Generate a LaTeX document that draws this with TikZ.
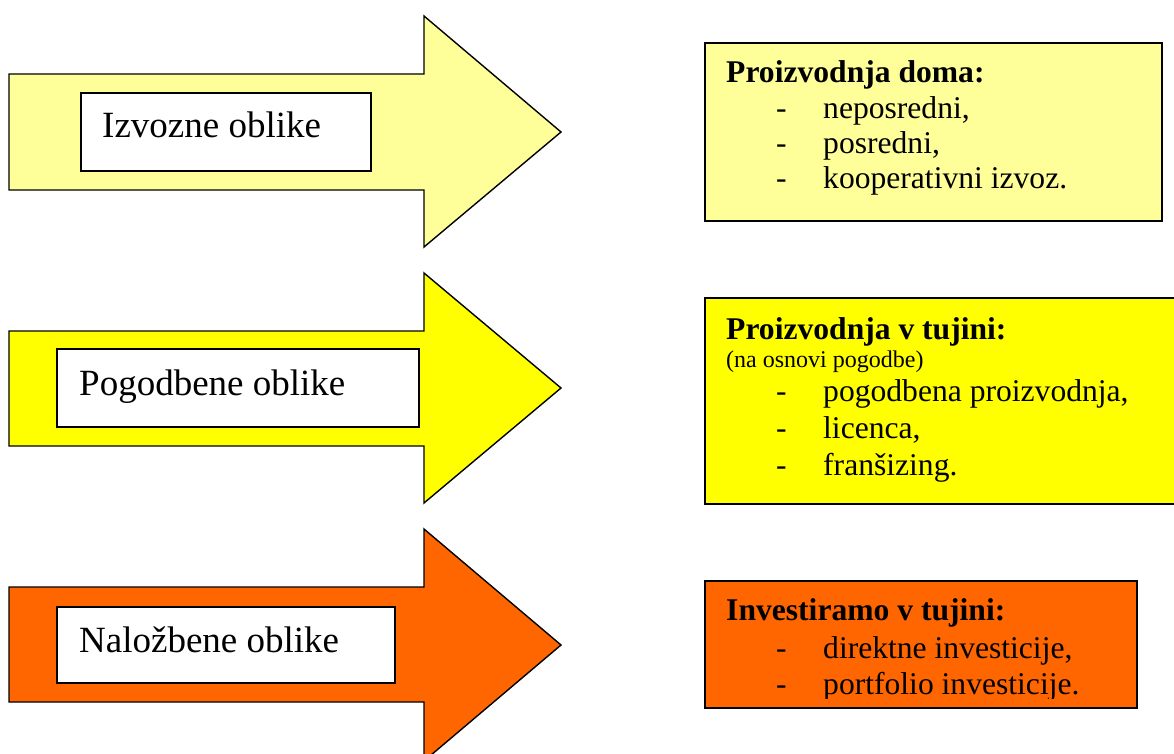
\documentclass[tikz,border=0pt]{standalone}
\usepackage{fontspec}
\setmainfont{Liberation Serif}
\definecolor{paleyel}{HTML}{FFFF99}
\definecolor{brightyel}{HTML}{FFFF00}
\definecolor{orng}{HTML}{FF6600}
\begin{document}
\begin{tikzpicture}[x=1pt,y=-1pt,
  arrowshape/.style={draw=black, line width=1.4pt, line join=miter},
  labelbox/.style={draw=black, fill=white, line width=1.4pt, rectangle, inner sep=0pt},
  labeltext/.style={anchor=base west, inner sep=0pt, font=\fontsize{37}{40}\selectfont},
  infobox/.style={draw=black, line width=1.8pt, rectangle, inner sep=0pt},
  titletext/.style={anchor=base west, inner sep=0pt, font=\fontsize{31.6}{34}\selectfont\bfseries},
  itemtext/.style={anchor=base west, inner sep=0pt, font=\fontsize{31.6}{34}\selectfont},
  dashtext/.style={anchor=base west, inner sep=0pt, font=\fontsize{31.6}{34}\selectfont},
  smalltext/.style={anchor=base west, inner sep=0pt, font=\fontsize{24}{26}\selectfont}
]
\useasboundingbox (0,0) rectangle (1174,754);

% ---- arrows ----
\draw[arrowshape, fill=paleyel] (9,74) -- (424,74) -- (424,16) -- (561,132) -- (424,247) -- (424,190) -- (9,190) -- cycle;
\draw[arrowshape, fill=brightyel] (9,331) -- (424,331) -- (424,273) -- (561,388) -- (424,503) -- (424,446) -- (9,446) -- cycle;
\draw[arrowshape, fill=orng] (9,587) -- (424,587) -- (424,529) -- (561,645) -- (424,761) -- (424,702) -- (9,702) -- cycle;

% ---- label boxes ----
\node[labelbox, minimum width=290pt, minimum height=78pt] (lb1) at (226,132) {};
\node[labeltext] (lt1) at (102,138) {Izvozne oblike};
\node[labelbox, minimum width=362pt, minimum height=78pt] (lb2) at (238,388) {};
\node[labeltext] (lt2) at (79,395) {Pogodbene oblike};
\node[labelbox, minimum width=338pt, minimum height=76pt] (lb3) at (226,645) {};
\node[labeltext] (lt3) at (79,652) {Naložbene oblike};

% ---- info box 1 ----
\node[infobox, fill=paleyel, minimum width=457pt, minimum height=178pt] (ib1) at (933.5,132) {};
\node[titletext] (ib1t) at (726,83) {Proizvodnja doma:};
\node[dashtext] (ib1d1) at (776,119) {-};
\node[itemtext] (ib1i1) at (823,119) {neposredni,};
\node[dashtext] (ib1d2) at (776,154) {-};
\node[itemtext] (ib1i2) at (823,154) {posredni,};
\node[dashtext] (ib1d3) at (776,189) {-};
\node[itemtext] (ib1i3) at (823,189) {kooperativni izvoz.};

% ---- info box 2 ----
\node[infobox, fill=brightyel, minimum width=480pt, minimum height=206pt] (ib2) at (945,401) {};
\node[titletext] (ib2t) at (726,339) {Proizvodnja v tujini:};
\node[smalltext] (ib2s) at (726,367) {(na osnovi pogodbe)};
\node[dashtext] (ib2d1) at (776,401) {-};
\node[itemtext] (ib2i1) at (823,401) {pogodbena proizvodnja,};
\node[dashtext] (ib2d2) at (776,438) {-};
\node[itemtext] (ib2i2) at (823,438) {licenca,};
\node[dashtext] (ib2d3) at (776,475) {-};
\node[itemtext] (ib2i3) at (823,475) {franšizing.};

% ---- info box 3 ----
\node[infobox, fill=orng, minimum width=432pt, minimum height=127pt] (ib3) at (921,644.5) {};
\node[titletext] (ib3t) at (726,620) {Investiramo v tujini:};
\node[dashtext] (ib3d1) at (776,658) {-};
\node[itemtext] (ib3i1) at (823,658) {direktne investicije,};
\begin{scope}
  \clip (700,670) rectangle (1136,698);
  \node[dashtext] (ib3d2) at (776,694) {-};
  \node[itemtext] (ib3i2) at (823,694) {portfolio investicije.};
\end{scope}
\end{tikzpicture}
\end{document}
